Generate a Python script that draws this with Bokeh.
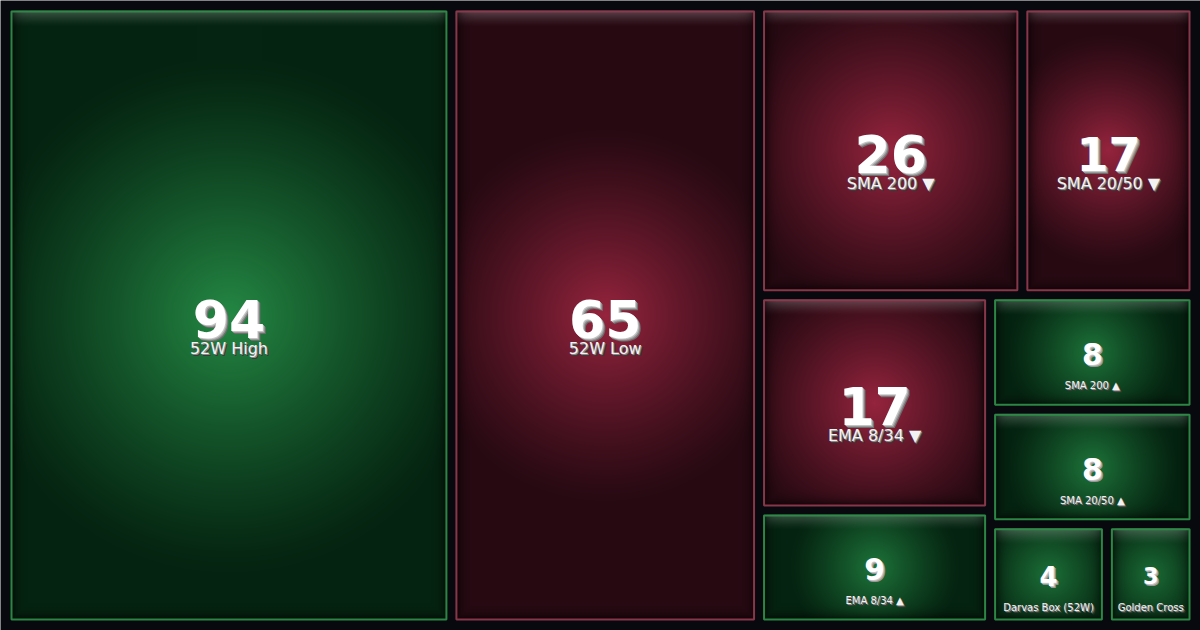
import numpy as np
from bokeh.plotting import figure
from bokeh.models import ColumnDataSource
from bokeh.core.properties import value
from bokeh.embed import file_html
from bokeh.resources import INLINE

# ---- data ----
labels = ["52W High", "52W Low", "SMA 200 ▼", "SMA 20/50 ▼", "EMA 8/34 ▼",
          "EMA 8/34 ▲", "SMA 200 ▲", "SMA 20/50 ▲", "Darvas Box (52W)", "Golden Cross"]
counts = [94, 65, 26, 17, 17, 9, 8, 8, 4, 3]
sides = ["bull", "bear", "bear", "bear", "bear", "bull", "bull", "bull", "bull", "bull"]

# ---- styling ----
W, H = 1200, 630
BG = "#08090e"
GAP = 8
PALETTE = {
    "bull": dict(center=(36, 136, 68), edge=(5, 36, 17), border="#2e8c48"),
    "bear": dict(center=(150, 36, 62), edge=(40, 10, 19), border="#8e3a4e"),
}


def squarify(vals, x0, y0, x1, y1):
    n = len(vals)
    rects = [None] * n
    total = float(sum(vals))
    i0 = 0
    while i0 < n:
        dx, dy = x1 - x0, y1 - y0
        i1 = i0
        s = vals[i1]
        i1 += 1
        mn = mx = s
        alpha = max(dy / dx, dx / dy) / total
        beta = s * s * alpha
        minr = max(mx / beta, beta / mn)
        while i1 < n:
            v = vals[i1]
            s2 = s + v
            mn2, mx2 = min(mn, v), max(mx, v)
            beta = s2 * s2 * alpha
            nr = max(mx2 / beta, beta / mn2)
            if nr > minr:
                break
            s, mn, mx, minr = s2, mn2, mx2, nr
            i1 += 1
        if dx < dy:
            yb = y0 + dy * s / total
            xx = x0
            for k in range(i0, i1):
                w = dx * vals[k] / s
                rects[k] = (xx, y0, xx + w, yb)
                xx += w
            y0 = yb
        else:
            xb = x0 + dx * s / total
            yy = y0
            for k in range(i0, i1):
                h = dy * vals[k] / s
                rects[k] = (x0, yy, xb, yy + h)
                yy += h
            x0 = xb
        total -= s
        i0 = i1
    return rects


outer = (10 - GAP / 2, 10 - GAP / 2, 1190 + GAP / 2, 620 + GAP / 2)
rects = squarify(counts, *outer)
boxes = [(a + GAP / 2, b + GAP / 2, c - GAP / 2, d - GAP / 2) for a, b, c, d in rects]

p = figure(width=W, height=H, x_range=(0, W), y_range=(0, H),
           x_axis_type=None, y_axis_type=None, output_backend="svg",
           toolbar_location=None, min_border=0)
p.grid.visible = False
p.outline_line_color = None
p.background_fill_color = BG
p.border_fill_color = BG


def tile_image(w, h, pal):
    iw, ih = max(int(round(w)), 1), max(int(round(h)), 1)
    u = (np.arange(iw) + 0.5) * w / iw
    v = (np.arange(ih) + 0.5) * h / ih
    U, V = np.meshgrid(u, v)
    m = min(w, h)
    r = np.hypot(U - w / 2, V - h / 2)
    R = 0.52 * m + 30
    t = np.clip(r / R, 0, 1)
    strength = min(1.0, 0.45 + m / 300)
    f = strength * (1 - t) ** 1.2
    c0 = np.array(pal["center"], float)
    c1 = np.array(pal["edge"], float)
    col = c1 + (c0 - c1) * f[..., None]
    sheen = 0.2 * np.clip(1 - (V - 2) / 14, 0, 1) ** 1.3
    col = col + (255 - col) * sheen[..., None]
    d = np.minimum(np.minimum(U, w - U), h - V)
    shade = 0.55 * np.exp(-np.maximum(d - 2, 0) / 5)
    col = col * (1 - shade[..., None])
    img = np.empty((ih, iw, 4), dtype=np.uint8)
    img[..., :3] = np.clip(col, 0, 255).astype(np.uint8)
    img[..., 3] = 255
    img = np.flipud(img).copy()
    return img.view(np.uint32).reshape(ih, iw)


images, ix, iy, idw, idh = [], [], [], [], []
qx0, qx1, qy0, qy1, qcol = [], [], [], [], []
for (a, b, c, d), side in zip(boxes, sides):
    w, h = c - a, d - b
    pal = PALETTE[side]
    images.append(tile_image(w, h, pal))
    ix.append(a); iy.append(H - d); idw.append(w); idh.append(h)
    qx0.append(a + 1); qx1.append(c - 1); qy0.append(H - d + 1); qy1.append(H - b - 1)
    qcol.append(pal["border"])

p.image_rgba(image=images, x=ix, y=iy, dw=idw, dh=idh)
p.quad(left=qx0, right=qx1, bottom=qy0, top=qy1, fill_color=None,
       line_color=qcol, line_width=2, line_alpha=0.95)

# ---- texts ----
cx, cy, nfs, lfs, nfs_px, nums = [], [], [], [], [], []
for (a, b, c, d), n in zip(boxes, counts):
    w, h = c - a, d - b
    m = min(w, h)
    fs = min(52, 0.28 * m)
    cx.append((a + c) / 2)
    cy.append(H - (b + d) / 2)
    nfs_px.append(fs)
    nfs.append(f"{fs:.1f}px")
    lfs.append("16px" if m >= 150 else "10px")
    nums.append(str(n))

src = ColumnDataSource(dict(x=cx, y=cy, num=nums, lab=labels, nfs=nfs, lfs=lfs,
                            nyo=[0.06 * f for f in nfs_px]))
font = value("DejaVu Sans")

# number shadows (extruded look)
for k, colr in [(3, "#6e6e6e"), (2, "#999999"), (1, "#c4c4c4")]:
    xo = [min(k, 3 if f >= 40 else 2) for f in nfs_px]
    yo = [0.06 * f + o for f, o in zip(nfs_px, xo)]
    s2 = ColumnDataSource(dict(x=cx, y=cy, num=nums, nfs=nfs, xo=xo, yo=yo))
    p.text(x="x", y="y", text="num", source=s2, text_font=font, text_font_style="bold",
           text_font_size="nfs", text_color=colr, text_align="center",
           text_baseline="middle", x_offset="xo", y_offset="yo")
p.text(x="x", y="y", text="num", source=src, text_font=font, text_font_style="bold",
       text_font_size="nfs", text_color="#ffffff", text_align="center",
       text_baseline="middle", y_offset="nyo")

# label shadows
for k, colr in [(2, "#3a3a3a"), (1, "#8a8a8a")]:
    p.text(x="x", y="y", text="lab", source=src, text_font=font,
           text_font_size="lfs", text_color=colr, text_align="center",
           text_baseline="middle", x_offset=k, y_offset=33 + k)
p.text(x="x", y="y", text="lab", source=src, text_font=font,
       text_font_size="lfs", text_color="#f2f2f2", text_align="center",
       text_baseline="middle", y_offset=33)

open("out.html", "w").write(file_html(p, INLINE))
